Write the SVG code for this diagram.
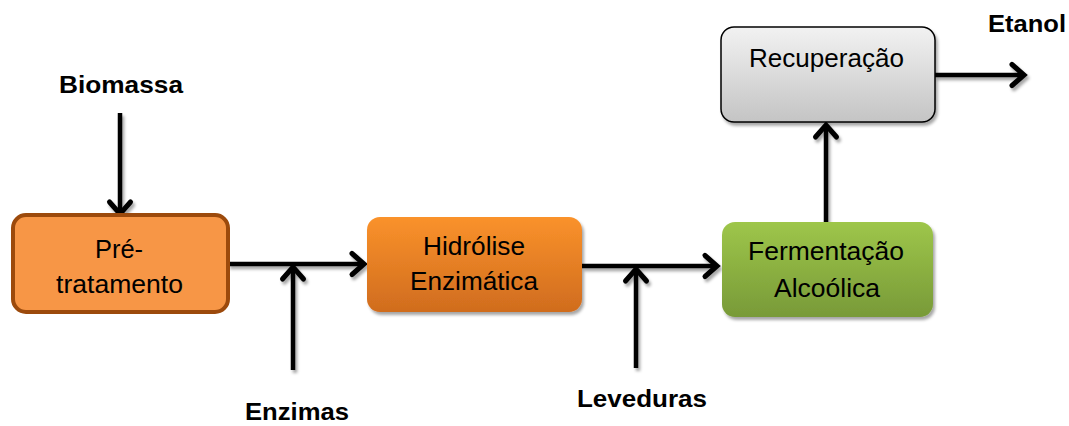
<svg xmlns="http://www.w3.org/2000/svg" width="1069" height="426" viewBox="0 0 1069 426">
<style>
.lbl{font-family:"Liberation Sans",Arial,sans-serif;font-size:25px;fill:#000;text-anchor:middle}
.bold{font-weight:bold;font-size:24px}
.conn{stroke:#000;stroke-width:4.5;fill:none;marker-end:url(#arr)}
</style>
<defs>
<marker id="arr" markerUnits="userSpaceOnUse" markerWidth="32" markerHeight="32" viewBox="-18 -16 22 32" refX="0" refY="0" orient="auto">
<path d="M-12,-10.5 L0,0 L-12,10.5" fill="none" stroke="#000" stroke-width="5" stroke-linecap="round" stroke-linejoin="miter"/>
</marker>
<linearGradient id="gOr" x1="0" y1="0" x2="0" y2="1"><stop offset="0" stop-color="#FA922B"/><stop offset="1" stop-color="#D06C1E"/></linearGradient>
<linearGradient id="gGr" x1="0" y1="0" x2="0" y2="1"><stop offset="0" stop-color="#9EC64A"/><stop offset="1" stop-color="#789A38"/></linearGradient>
<linearGradient id="gGy" x1="0" y1="0" x2="0" y2="1"><stop offset="0" stop-color="#F2F2F2"/><stop offset="1" stop-color="#C4C4C4"/></linearGradient>
<filter id="sh" x="-10%" y="-10%" width="130%" height="140%"><feDropShadow dx="2" dy="3" stdDeviation="1.5" flood-color="#000" flood-opacity="0.35"/></filter>
</defs>
<g id="connectors" filter="url(#sh)">
<line class="conn" x1="120" y1="113" x2="120" y2="214"/>
<line class="conn" x1="228" y1="264" x2="364" y2="264"/>
<line class="conn" x1="293" y1="370" x2="293" y2="267"/>
<line class="conn" x1="582" y1="266" x2="717" y2="266"/>
<line class="conn" x1="636" y1="368" x2="636" y2="269"/>
<line class="conn" x1="826" y1="222" x2="826" y2="125"/>
<line class="conn" x1="935" y1="75" x2="1024" y2="75"/>
</g>
<g id="pretratamento">
<rect x="13" y="215" width="215" height="97" rx="13" fill="#F79646" stroke="#9C4A0C" stroke-width="4"/>
<text class="lbl" x="119" y="258" textLength="48" lengthAdjust="spacingAndGlyphs">Pré-</text>
<text class="lbl" x="119.5" y="293" textLength="127" lengthAdjust="spacingAndGlyphs">tratamento</text>
</g>
<g id="hidrolise">
<rect x="367" y="217" width="215" height="95" rx="13" fill="url(#gOr)" filter="url(#sh)"/>
<text class="lbl" x="474" y="255" textLength="102" lengthAdjust="spacingAndGlyphs">Hidrólise</text>
<text class="lbl" x="474" y="290" textLength="128" lengthAdjust="spacingAndGlyphs">Enzimática</text>
</g>
<g id="fermentacao">
<rect x="722" y="222" width="211" height="95" rx="13" fill="url(#gGr)" filter="url(#sh)"/>
<text class="lbl" x="826" y="260" textLength="156" lengthAdjust="spacingAndGlyphs">Fermentação</text>
<text class="lbl" x="827" y="297" textLength="106" lengthAdjust="spacingAndGlyphs">Alcoólica</text>
</g>
<g id="recuperacao">
<rect x="721" y="27" width="214" height="95" rx="13" fill="url(#gGy)" stroke="#000" stroke-width="1.5" filter="url(#sh)"/>
<text class="lbl" x="826.5" y="67" textLength="155" lengthAdjust="spacingAndGlyphs">Recuperação</text>
</g>
<g id="biomassa"><text class="lbl bold" x="121" y="93" textLength="124" lengthAdjust="spacingAndGlyphs">Biomassa</text></g>
<g id="enzimas"><text class="lbl bold" x="297" y="420" textLength="104" lengthAdjust="spacingAndGlyphs">Enzimas</text></g>
<g id="leveduras"><text class="lbl bold" x="642" y="407" textLength="130" lengthAdjust="spacingAndGlyphs">Leveduras</text></g>
<g id="etanol"><text class="lbl bold" x="1027" y="32" textLength="78" lengthAdjust="spacingAndGlyphs">Etanol</text></g>
</svg>
